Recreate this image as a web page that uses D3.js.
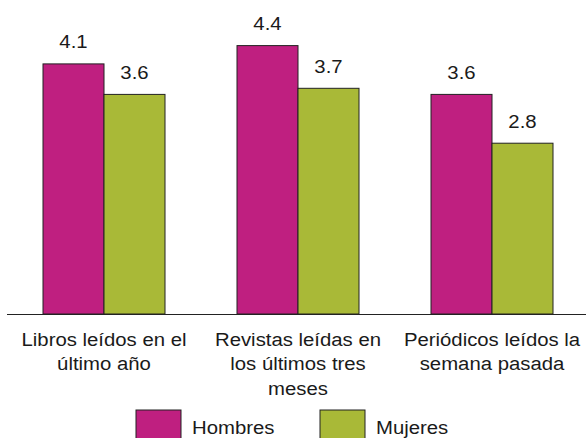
<!DOCTYPE html>
<html><head><meta charset="utf-8">
<script src="https://cdn.jsdelivr.net/npm/d3@7"></script>
<style>
html,body{margin:0;padding:0;background:#fff;}
svg text{font-family:"Liberation Sans",Arial,sans-serif;fill:#1a1a1a;}
</style></head>
<body>
<svg id="c" width="586" height="438"></svg>
<script>
const categories = [
  ["Libros leídos en el", "último año"],
  ["Revistas leídas en", "los últimos tres", "meses"],
  ["Periódicos leídos la", "semana pasada"]
];
const series = ["Hombres", "Mujeres"];
const hombres = [4.1, 4.4, 3.6];
const mujeres = [3.6, 3.7, 2.8];
const colors = ["#BF1F80", "#A9B937"];

const SX = 1.13;   // horizontal stretch of the text, as in the reference
const FS = 18;

const svg = d3.select("#c");
const baseY = 314;
const x0 = d3.scaleBand().domain(d3.range(categories.length)).range([7, 589]).padding(0);
const x1 = d3.scaleBand().domain(series).range([36, x0.bandwidth() - 36]);
const y = d3.scaleLinear().domain([0, 5]).range([baseY, baseY - 5 * 61]);

const data = categories.map((c, i) => ({i, vals: [hombres[i], mujeres[i]]}));

const g = svg.selectAll("g.grp").data(data).join("g")
  .attr("class", "grp")
  .attr("transform", d => `translate(${x0(d.i)},0)`);

const items = d => d.vals.map((v, k) => ({v, s: series[k], k}));

g.selectAll("rect").data(items).join("rect")
  .attr("x", d => x1(d.s))
  .attr("y", d => y(d.v))
  .attr("width", x1.bandwidth())
  .attr("height", d => baseY - y(d.v))
  .attr("fill", d => colors[d.k])
  .attr("stroke", "#222")
  .attr("stroke-width", 1);

g.selectAll("g.val").data(items).join("g")
  .attr("class", "val")
  .attr("transform", d => `translate(${x1(d.s) + x1.bandwidth() / 2},${y(d.v) - 15.5}) scale(${SX},1)`)
  .append("text")
  .attr("text-anchor", "middle")
  .attr("font-size", FS)
  .text(d => d3.format(".1f")(d.v));

svg.append("line")
  .attr("x1", 7).attr("x2", 586)
  .attr("y1", baseY + 0.5).attr("y2", baseY + 0.5)
  .attr("stroke", "#222").attr("stroke-width", 1.2);

// category labels
const lab = svg.selectAll("g.cat").data(categories).join("g")
  .attr("class", "cat")
  .attr("transform", (d, i) => `translate(${x0(i) + x0.bandwidth() / 2},0) scale(${SX},1)`);
lab.selectAll("text").data(d => d).join("text")
  .attr("text-anchor", "middle")
  .attr("font-size", FS)
  .attr("x", 0)
  .attr("y", (d, j) => 346 + j * 24.5)
  .text(d => d);

// legend
const legX = [136, 320];
const leg = svg.selectAll("g.leg").data(series).join("g")
  .attr("class", "leg")
  .attr("transform", (d, i) => `translate(${legX[i]},410)`);
leg.append("rect").attr("width", 45).attr("height", 40)
  .attr("fill", (d, i) => colors[i]).attr("stroke", "#222").attr("stroke-width", 1);
leg.append("g").attr("transform", `translate(56,24) scale(${SX},1)`)
  .append("text").attr("font-size", FS).text(d => d);
</script>
</body></html>
